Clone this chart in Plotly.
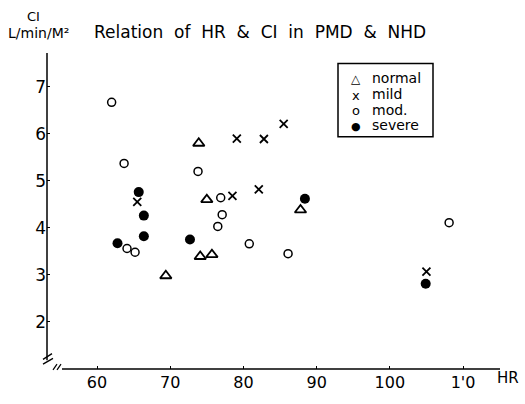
import plotly.graph_objects as go

# ---- data ----
normal_hr = [73.9, 75.0, 87.8, 69.4, 74.1, 75.7]
normal_ci = [5.80, 4.60, 4.38, 2.98, 3.39, 3.43]

mild_hr = [79.1, 82.8, 85.5, 65.5, 78.5, 82.1, 105.0]
mild_ci = [5.90, 5.89, 6.21, 4.55, 4.68, 4.82, 3.07]

mod_hr = [62.0, 63.7, 73.8, 76.9, 77.1, 76.5, 80.8, 86.1, 64.1, 65.2, 108.1]
mod_ci = [6.67, 5.37, 5.20, 4.64, 4.28, 4.03, 3.66, 3.45, 3.56, 3.48, 4.11]

severe_hr = [65.7, 66.4, 66.4, 62.8, 72.7, 88.4, 104.9]
severe_ci = [4.76, 4.26, 3.82, 3.67, 3.75, 4.62, 2.81]

x_ticks = [60, 70, 80, 90, 100, 110]
x_tick_text = ["60", "70", "80", "90", "100", "1'0"]
y_ticks = [2, 3, 4, 5, 6, 7]

legend_names = ["normal", "mild", "mod.", "severe"]
legend_glyphs = ["\u25b3", "x", "o", "\u25cf"]

FONT = "DejaVu Sans"
W, H = 525, 404
L, R, T, B = 47, 500, 53, 381


def px(x):
    return (x - L) / (R - L)


def py(y):
    return (B - y) / (B - T)


fig = go.Figure()
fig.add_trace(go.Scatter(x=normal_hr, y=normal_ci, mode="markers", name=legend_names[0],
                         marker=dict(symbol="triangle-up-open", size=10, color="black",
                                     line=dict(width=1.8, color="black"))))
fig.add_trace(go.Scatter(x=mild_hr, y=mild_ci, mode="markers", name=legend_names[1],
                         marker=dict(symbol="x-thin-open", size=8, color="black",
                                     line=dict(width=1.8, color="black"))))
fig.add_trace(go.Scatter(x=mod_hr, y=mod_ci, mode="markers", name=legend_names[2],
                         marker=dict(symbol="circle-open", size=8, color="black",
                                     line=dict(width=1.5, color="black"))))
fig.add_trace(go.Scatter(x=severe_hr, y=severe_ci, mode="markers", name=legend_names[3],
                         marker=dict(symbol="circle", size=10, color="black")))

shapes = [
    # y axis line
    dict(type="line", xref="paper", yref="paper", x0=0, x1=0, y0=py(372), y1=1,
         line=dict(color="black", width=1.5)),
    # x axis line
    dict(type="line", xref="paper", yref="paper", x0=px(62), x1=1, y0=0, y1=0,
         line=dict(color="black", width=1.5)),
    # axis break marks
    dict(type="line", xref="paper", yref="paper", x0=px(43), x1=px(52), y0=py(371), y1=py(365),
         line=dict(color="black", width=1.3)),
    dict(type="line", xref="paper", yref="paper", x0=px(43), x1=px(53), y0=py(376), y1=py(370),
         line=dict(color="black", width=1.3)),
    dict(type="line", xref="paper", yref="paper", x0=px(53), x1=px(57), y0=py(382), y1=py(376),
         line=dict(color="black", width=1.2)),
    dict(type="line", xref="paper", yref="paper", x0=px(57), x1=px(61), y0=py(382), y1=py(376),
         line=dict(color="black", width=1.2)),
    # legend box
    dict(type="rect", xref="paper", yref="paper", x0=px(338), x1=px(433), y0=py(140), y1=py(64),
         line=dict(color="black", width=1.5), fillcolor="rgba(0,0,0,0)"),
]

annotations = [
    dict(text="CI", x=px(33), y=py(15), xref="paper", yref="paper", showarrow=False,
         borderpad=0, font=dict(family=FONT, size=13, color="black"),
         xanchor="center", yanchor="middle"),
    dict(text="L/min/M\u00b2", x=px(7), y=py(32), xref="paper", yref="paper", showarrow=False,
         borderpad=0, font=dict(family=FONT, size=14, color="black"),
         xanchor="left", yanchor="middle"),
    dict(text="Relation  of  HR  &  CI  in  PMD  &  NHD", x=px(93), y=py(31), xref="paper",
         yref="paper", showarrow=False, borderpad=0,
         font=dict(family=FONT, size=17, color="black"),
         xanchor="left", yanchor="middle"),
    dict(text="HR", x=px(496), y=py(390), xref="paper", yref="paper", showarrow=False,
         borderpad=0, font=dict(family=FONT, size=15, color="black"),
         xanchor="left", yanchor="middle"),
]

legend_y = [79, 96, 112, 128]
glyph_sizes = [12, 13, 13, 11]
for name, glyph, yy, gs in zip(legend_names, legend_glyphs, legend_y, glyph_sizes):
    annotations.append(dict(text=glyph, x=px(356), y=py(yy + 1), xref="paper", yref="paper",
                            showarrow=False, xanchor="center", yanchor="middle", borderpad=0,
                            font=dict(family=FONT, size=gs, color="black")))
    annotations.append(dict(text=name, x=px(371), y=py(yy), xref="paper", yref="paper",
                            showarrow=False, xanchor="left", yanchor="middle", borderpad=0,
                            font=dict(family=FONT, size=14, color="black")))

fig.update_layout(
    width=W, height=H,
    margin=dict(l=L, r=W - R, t=T, b=H - B, pad=0),
    paper_bgcolor="white", plot_bgcolor="white",
    font=dict(family=FONT, size=15, color="black"),
    showlegend=False,
    shapes=shapes,
    annotations=annotations,
)
fig.update_xaxes(range=[53.17, 115.05], tickvals=x_ticks, ticktext=x_tick_text,
                 showgrid=False, zeroline=False, showline=False,
                 ticks="inside", ticklen=3, tickcolor="black", ticklabelstandoff=2,
                 tickfont=dict(family=FONT, size=16, color="black"))
fig.update_yaxes(range=[0.996, 7.72], tickvals=y_ticks,
                 showgrid=False, zeroline=False, showline=False,
                 ticks="inside", ticklen=3, tickcolor="black",
                 tickfont=dict(family=FONT, size=17, color="black"))

post = (
    "document.body.style.margin='0';document.body.style.padding='0';"
    "document.documentElement.style.overflow='hidden';"
)

fig.write_html("out.html", config={"displayModeBar": False}, post_script=post)
